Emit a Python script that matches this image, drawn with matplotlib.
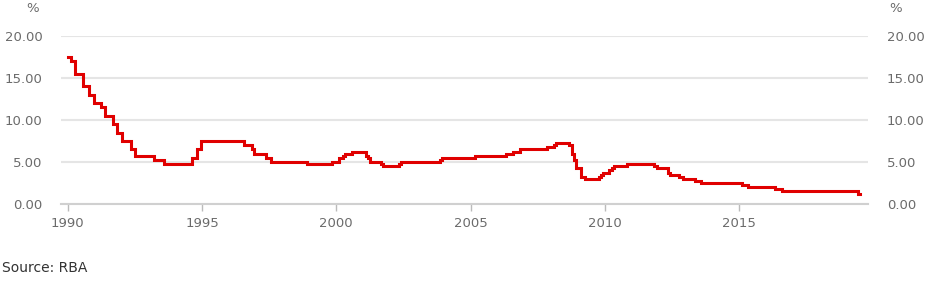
import pandas as pd
import matplotlib
matplotlib.use("Agg")
import matplotlib.pyplot as plt
import matplotlib.dates as mdates
import matplotlib.ticker as mticker

# ── Data: RBA cash rate target (change dates and new rate, %) ───────────────
change_dates = [
    "1990-01-01", "1990-02-15", "1990-04-04", "1990-08-02", "1990-10-15",
    "1990-12-18", "1991-04-04", "1991-05-16", "1991-09-03", "1991-11-06",
    "1992-01-08", "1992-05-06", "1992-07-08", "1993-03-23", "1993-07-30",
    "1994-08-17", "1994-10-24", "1994-12-14", "1996-07-31", "1996-11-06",
    "1996-12-11", "1997-05-23", "1997-07-30", "1998-12-02", "1999-11-03",
    "2000-02-02", "2000-04-05", "2000-05-03", "2000-08-02", "2001-02-07",
    "2001-03-07", "2001-04-04", "2001-09-05", "2001-10-03", "2002-05-08",
    "2002-06-05", "2003-11-05", "2003-12-03", "2005-03-02", "2006-05-03",
    "2006-08-02", "2006-11-08", "2007-08-08", "2007-11-07", "2008-02-06",
    "2008-03-05", "2008-09-03", "2008-10-08", "2008-11-05", "2008-12-03",
    "2009-02-04", "2009-04-08", "2009-10-07", "2009-11-04", "2009-12-02",
    "2010-03-03", "2010-04-07", "2010-05-05", "2010-11-03", "2011-11-02",
    "2011-12-07", "2012-05-02", "2012-06-06", "2012-10-03", "2012-12-05",
    "2013-05-08", "2013-08-07", "2015-02-04", "2015-05-06", "2016-05-04",
    "2016-08-03", "2019-06-05", "2019-07-01",
]
cash_rate = [
    17.50, 17.00, 15.50, 14.00, 13.00,
    12.00, 11.50, 10.50, 9.50, 8.50,
    7.50, 6.50, 5.75, 5.25, 4.75,
    5.50, 6.50, 7.50, 7.00, 6.50,
    6.00, 5.50, 5.00, 4.75, 5.00,
    5.50, 5.75, 6.00, 6.25, 5.75,
    5.50, 5.00, 4.75, 4.50, 4.75,
    5.00, 5.25, 5.50, 5.75, 6.00,
    6.25, 6.50, 6.50, 6.75, 7.00,
    7.25, 7.00, 6.00, 5.25, 4.25,
    3.25, 3.00, 3.25, 3.50, 3.75,
    4.00, 4.25, 4.50, 4.75, 4.50,
    4.25, 3.75, 3.50, 3.25, 3.00,
    2.75, 2.50, 2.25, 2.00, 1.75,
    1.50, 1.25, 1.25,
]
y_ticks = [0, 5, 10, 15, 20]
x_years = [1990, 1995, 2000, 2005, 2010, 2015]

dates = pd.to_datetime(change_dates)

# ── Figure ──────────────────────────────────────────────────────────────────
fig = plt.figure(figsize=(9.39, 2.85), dpi=100)
ax = fig.add_axes([0.065, 0.2842, 0.8594, 0.5895])

ax.plot(dates, cash_rate, color="#e00000", linewidth=2.2,
        drawstyle="steps-post", solid_joinstyle="miter", zorder=3)

ax.set_ylim(0, 20)
ax.set_xlim(pd.Timestamp("1989-10-01"), pd.Timestamp("2019-10-20"))
ax.set_yticks(y_ticks)
ax.set_xticks([pd.Timestamp(f"{y}-01-01") for y in x_years])
ax.xaxis.set_major_formatter(mdates.DateFormatter("%Y"))
ax.yaxis.set_major_formatter(mticker.FormatStrFormatter("%.2f"))

ax.grid(axis="y", color="#e5e5e5", linewidth=1.5, zorder=0)
ax.grid(axis="x", visible=False)
for side in ["top", "left", "right"]:
    ax.spines[side].set_visible(False)
ax.spines["bottom"].set_color("#d0d0d0")
ax.spines["bottom"].set_linewidth(1.5)

tick_color = "#6b6b6b"
ax.tick_params(axis="x", length=5, width=1, color="#bbbbbb",
               labelsize=9.5, labelcolor=tick_color, pad=4)
ax.tick_params(axis="y", length=0, labelsize=9.5, labelcolor=tick_color,
               pad=13.5, labelleft=True, labelright=True)

# unit labels and source note
fig.text(33 / 939, 1 - 8 / 285, "%", ha="center", va="center",
         fontsize=9.5, color=tick_color)
fig.text(896 / 939, 1 - 8 / 285, "%", ha="center", va="center",
         fontsize=9.5, color=tick_color)
fig.text(2 / 939, 1 - 268 / 285, "Source: RBA", ha="left", va="center",
         fontsize=10, color="#333333")

plt.savefig("out.png", dpi=100)
plt.close()
